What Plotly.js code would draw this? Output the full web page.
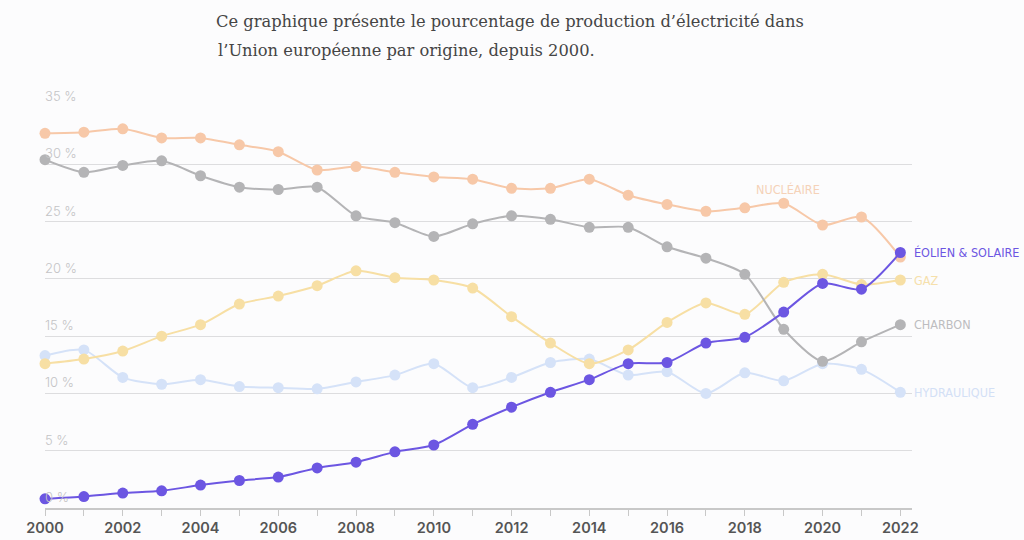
<!DOCTYPE html>
<html>
<head>
<meta charset="utf-8">
<script src="https://cdn.plot.ly/plotly-3.0.1.min.js"></script>
<style>
html,body{margin:0;padding:0;background:#fcfcfd;}
#chart{width:1024px;height:540px;}
</style>
</head>
<body>
<div id="chart"></div>
<script>
const years = [2000,2001,2002,2003,2004,2005,2006,2007,2008,2009,2010,2011,2012,2013,2014,2015,2016,2017,2018,2019,2020,2021,2022];
const nucleaire = [32.7,32.8,33.1,32.3,32.3,31.7,31.1,29.5,29.8,29.3,28.9,28.7,27.9,27.9,28.7,27.3,26.5,25.9,26.2,26.6,24.7,25.4,21.9];
const charbon = [30.4,29.3,29.9,30.3,29.0,28.0,27.8,28.0,25.5,24.9,23.7,24.8,25.5,25.2,24.5,24.5,22.8,21.8,20.4,15.6,12.8,14.5,16.0];
const gaz = [12.6,13.0,13.7,15.0,16.0,17.8,18.5,19.4,20.7,20.1,19.9,19.2,16.7,14.4,12.6,13.8,16.2,17.9,16.9,19.7,20.4,19.5,19.9];
const hydraulique = [13.3,13.8,11.4,10.8,11.2,10.6,10.5,10.4,11.0,11.6,12.6,10.5,11.4,12.7,13.0,11.6,11.9,10.0,11.8,11.1,12.6,12.1,10.1];
const eolienSolaire = [0.8,1.0,1.3,1.5,2.0,2.4,2.7,3.5,4.0,4.9,5.5,7.3,8.8,10.1,11.2,12.6,12.7,14.4,14.9,17.1,19.6,19.1,22.3];

const yTicks = [0,5,10,15,20,25,30,35];
const yTickText = ['0 %','5 %','10 %','15 %','20 %','25 %','30 %','35 %'];
const xTicks = [2000,2002,2004,2006,2008,2010,2012,2014,2016,2018,2020,2022];

const series = [
  {name:'HYDRAULIQUE', y:hydraulique, color:'#d5e2f8', label:'#d3e0f6'},
  {name:'GAZ', y:gaz, color:'#f7dfa4', label:'#f6e0ab'},
  {name:'CHARBON', y:charbon, color:'#b4b4b6', label:'#bdbdc0'},
  {name:'NUCLÉAIRE', y:nucleaire, color:'#f7c8a8', label:'#f5d2b8'},
  {name:'ÉOLIEN & SOLAIRE', y:eolienSolaire, color:'#6c56e2', label:'#6c56e2'}
];

const traces = series.map(s => ({
  x: years, y: s.y, type:'scatter', mode:'lines+markers', name:s.name,
  line:{color:s.color, width:2, shape:'spline', smoothing:0.7},
  marker:{color:s.color, size:11},
  cliponaxis:false, hoverinfo:'x+y'
}));

const labelFont = "'DejaVu Sans Condensed','DejaVu Sans',sans-serif";
const serifFont = "'DejaVu Serif','Liberation Serif',serif";
const annotations = [];

// y tick labels, drawn above each gridline at the left edge
yTicks.forEach((v, i) => {
  annotations.push({xref:'paper', yref:'y', x:0, y:v, text:yTickText[i], showarrow:false,
    xanchor:'left', yanchor:'bottom', xshift:-2, yshift:1,
    font:{family:"Inter, 'Open Sans', sans-serif", size:13, color:'#c4c4c6', weight:300}});
});

series.forEach(s => {
  const last = s.y.length - 1;
  if (s.name === 'NUCLÉAIRE') {
    annotations.push({x: years[19]+0.1, y: s.y[19], xref:'x', yref:'y', text:s.name, showarrow:false,
      yshift:14, xanchor:'center', yanchor:'middle',
      font:{family:labelFont, size:12.5, color:s.label, weight:500, stretch:'condensed'}});
  } else {
    annotations.push({x: years[last], y: s.y[last], xref:'x', yref:'y', text:s.name, showarrow:false,
      xshift:12, xanchor:'left', yanchor:'middle',
      font:{family:labelFont, size:12.5, color:s.label, weight:500, stretch:'condensed'}});
  }
});
annotations.push({
  xref:'paper', yref:'paper', x:(216-45)/(912-45), y:1, yshift:57, xanchor:'left', yanchor:'middle',
  text:'l’Union européenne par origine, depuis 2000.', showarrow:false,
  font:{family:serifFont, size:16.3, color:'#454545'}
});

const layout = {
  width:1024, height:540,
  paper_bgcolor:'#fcfcfd', plot_bgcolor:'#fcfcfd',
  margin:{l:45, r:112, t:107, b:32},
  showlegend:false,
  title:{
    text:'Ce graphique présente le pourcentage de production d’électricité dans',
    x:216/1024, xanchor:'left', xref:'container',
    y:1-21/540, yanchor:'middle', yref:'container',
    font:{family:serifFont, size:16.3, color:'#454545'}
  },
  xaxis:{
    range:[2000, 2022.3], tickvals:xTicks, ticktext:xTicks.map(String),
    showgrid:false, zeroline:false,
    showline:true, linecolor:'#c8c8c8', linewidth:1.5,
    ticks:'outside', ticklen:6, tickcolor:'#c8c8c8', tickwidth:1,
    minor:{dtick:1, tick0:2000, ticks:'outside', ticklen:6, tickcolor:'#c8c8c8', showgrid:false},
    tickfont:{family:"Inter, 'Open Sans', sans-serif", size:14.5, color:'#555', weight:600}
  },
  yaxis:{
    range:[0,35], tickvals:yTicks,
    showgrid:true, gridcolor:'#dddddf', gridwidth:1,
    zeroline:false, showline:false, ticks:'', showticklabels:false
  },
  annotations: annotations
};

Plotly.newPlot('chart', traces, layout, {displayModeBar:false, staticPlot:true});
</script>
</body>
</html>
